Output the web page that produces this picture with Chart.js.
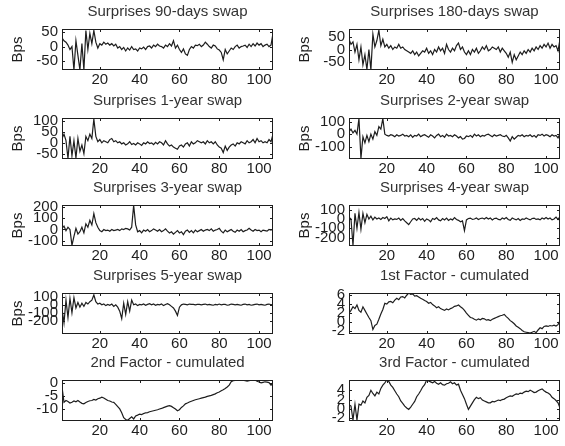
<!DOCTYPE html>
<html>
<head>
<meta charset="utf-8">
<script src="https://cdn.jsdelivr.net/npm/chart.js@4.4.0/dist/chart.umd.min.js"></script>
<style>
html, body { margin: 0; padding: 0; background: #fff; overflow: hidden; width: 565px; height: 446px; }
canvas { position: absolute; }
</style>
</head>
<body>
<script>
// monthly surprises (bps) and cumulated factors
var swap90d = [30, 20, 15, 5, -10, 0, -80, 20, -30, -80,
  10, -80, 55, -10, 45, 10, 55, 15, -5, 10,
  5, 15, 8, 12, 5, 10, 2, 8, -5, 0,
  -10, -3, -15, -5, -12, 0, -10, -8, -15, -5,
  -8, -2, -10, 0, 2, -5, 5, 0, 8, 2,
  0, -5, 5, 0, 10, 2, 20, -5, 5, -10,
  -20, -8, -25, -30, -10, 0, -5, 5, 3, 8,
  0, 5, 15, 8, 0, -5, 5, 2, -8, -12,
  -20, -45, -10, -25, -15, -5, -10, 0, 5, -5,
  0, 2, 5, -3, 8, 0, 10, 2, 12, 5,
  10, 0, 5, 8, 0, 5, 45];
var swap180d = [40, 20, 30, -10, 20, -40, 10, -60, -20, -78,
  0, -80, 60, 10, 35, 75, 15, 40, 10, 20,
  5, 15, 0, 10, 5, 20, 5, 10, 0, -5,
  -10, -15, -5, -20, -10, -25, -15, -5, -10, 5,
  -15, -5, -20, 0, -10, 10, -5, 5, -15, 20,
  0, -10, 5, -5, 15, 25, 0, 10, -10, -20,
  -5, -20, 0, -10, 5, -15, -5, 10, 0, 15,
  -5, 0, 10, 5, 0, 10, -10, 5, -5, -15,
  -30, -10, -50, -20, -40, -25, -10, -20, -5, -15,
  0, -10, 5, -5, 10, 0, 15, 5, 20, 10,
  25, 5, 20, 10, 15, -5, 40];
var swap1y = [20, 40, 10, -72, 30, -60, 10, -70, 20, -40,
  -10, -50, 30, 10, 40, 20, 110, 30, 5, 15,
  0, 10, 5, 0, 15, 20, 5, 10, 0, 5,
  -5, 0, -10, -5, 5, -8, -3, -10, 0, -5,
  -12, 0, -5, 5, -3, 0, -8, 2, -5, 5,
  0, -10, 10, -5, -15, -10, -20, -25, -30, -15,
  -10, -20, -5, 0, -15, 5, -5, 0, 10, 5,
  0, 5, -5, 10, 0, 5, -5, 5, -10, -20,
  -25, -45, -15, -35, -20, -10, -5, -15, 0, -5,
  5, 0, -5, 10, 0, 5, 15, 0, 20, 5,
  10, 0, 5, 0, 15, 5, 40];
var swap2y = [20, 40, 10, 30, 0, 125, -195, -20, -70, -10,
  -60, 0, -40, 20, -10, 60, 40, 125, 0, -10,
  -15, -5, -10, -20, -5, -15, -10, 0, -15, -10,
  -20, -5, -25, -10, -15, 0, -20, -10, -5, -15,
  -25, -5, -15, -30, -10, 0, -20, -10, -25, 0,
  -15, -10, -20, -5, -15, -30, -20, -40, -35, -15,
  -20, -10, -25, 0, -15, -5, -20, -10, -15, -5,
  0, -10, -20, -5, -15, -10, -5, -15, -20, -10,
  -30, -55, -20, -40, -25, -10, -15, -5, -20, -10,
  -15, -5, -20, -10, -25, -5, -10, 0, -15, -5,
  -10, -20, -5, -15, -10, -30, 0];
var swap3y = [10, 30, -10, 20, 0, -140, -60, 10, -40, -20,
  20, -30, 50, 20, 80, 40, 140, 60, 20, -10,
  -20, 0, -10, -5, -15, 0, -10, -5, 0, -10,
  5, 0, 10, 5, -5, 20, 212, 40, -20, -10,
  -30, -5, -15, 0, -20, -10, 5, -5, -15, 0,
  -20, -10, 5, -15, -30, -20, -40, -25, -10, -30,
  -20, -45, -15, -5, -25, -10, -30, -5, -20, -10,
  0, -15, -5, 0, -10, 5, -15, -5, 0, 10,
  -15, -30, -5, -20, -10, 0, -15, -25, -5, -15,
  0, -20, -10, -5, 10, -5, -15, 0, -10, -5,
  -20, -5, -10, -15, 0, -5, 5];
var swap4y = [20, 0, -285, 60, -100, 70, -110, 60, -40, 50,
  0, 30, -10, 20, 0, 10, -5, 15, 5, 25,
  -20, 10, -10, 0, -5, 10, -15, 5, -20, -40,
  -60, -30, 0, 5, -15, 10, -10, 5, -25, 0,
  -10, -30, 5, -5, 15, -10, -20, 5, -10, 10,
  -15, 0, -10, 15, -5, -15, -30, -20, -125, -10,
  5, 10, -5, 0, 10, -5, 5, 10, 0, 15,
  0, 10, -10, 5, 10, -5, -10, 10, 0, 15,
  -5, -15, 10, 0, -10, 5, -15, 0, -5, 10,
  0, -10, 5, 10, -5, 0, -10, 10, 0, 15,
  0, 10, -10, 0, 20, -5, 25];
var swap5y = [-50, -230, 60, -160, 80, -100, 90, -40, 30, -30,
  20, -20, 30, 10, 40, 60, 125, 40, 10, 20,
  0, 10, -10, 5, -5, 10, -20, 0, -30, -80,
  -175, 20, -120, 40, -80, 60, 0, 10, -10, 5,
  0, 10, -5, 5, 15, 0, 10, -5, 5, 0,
  10, -10, 5, 15, 0, -20, -40, -80, -135, -30,
  0, 10, 5, 0, 10, 5, 5, 0, 5, 5,
  0, 5, 10, 0, 5, 0, -5, 5, 0, 10,
  0, 5, 5, -5, 0, 10, 5, 0, 5, 0,
  -5, 5, 10, 0, 5, -5, 0, 5, 10, 0,
  5, 0, -5, 5, 10, 0, 5];
var factor1 = [2.0, 2.6, 3.4, 3.0, 3.8, 2.6, 2.2, 3.4, 2.6, 1.8,
  1.0, 0.3, -1.7, -0.8, -0.5, 0.6, 1.8, 2.8, 4.2, 4.0,
  4.5, 4.6, 4.3, 4.9, 5.3, 5.0, 5.6, 5.7, 5.4, 6.0,
  6.5, 6.2, 6.3, 5.8, 5.9, 5.6, 5.3, 5.1, 4.8, 4.6,
  4.2, 4.4, 3.9, 3.6, 3.2, 3.4, 3.0, 2.8, 2.6, 2.9,
  2.7, 3.0, 3.2, 3.5, 3.6, 3.8, 3.4, 3.1, 2.6, 2.0,
  1.5, 1.0, 0.9, 0.6, 0.4, 0.7, 0.5, 0.8, 0.7, 0.4,
  0.5, 0.3, 0.6, 0.8, 1.0, 1.2, 1.4, 1.5, 1.7, 1.2,
  0.8, 0.3, 0.0, -0.4, -0.9, -1.2, -1.5, -1.9, -2.2, -2.3,
  -2.4, -2.5, -2.3, -2.1, -2.4, -1.8, -1.3, -1.5, -1.0, -0.9,
  -1.0, -0.8, -0.9, -0.7, -0.9, -0.6, 0.3];
var factor2 = [-1.5, -7.5, -6.8, -7.2, -7.8, -7.5, -7.0, -7.3, -6.8, -7.4,
  -7.9, -8.1, -7.6, -7.2, -6.9, -6.8, -6.4, -6.6, -6.1, -5.9,
  -5.5, -5.8, -6.3, -6.8, -7.0, -7.4, -7.5, -8.3, -9.2, -10.1,
  -11.6, -13.5, -14.2, -14.5, -13.8, -13.2, -14.0, -12.8, -12.5, -12.1,
  -12.3, -11.9, -11.6, -11.5, -11.2, -11.0, -10.8, -10.6, -10.4, -10.1,
  -9.9, -9.6, -9.3, -9.0, -8.8, -9.1, -9.6, -10.1, -10.8, -10.4,
  -9.5, -8.9, -8.1, -7.8, -7.4, -7.1, -6.8, -6.5, -6.3, -6.1,
  -5.9, -5.7, -5.5, -5.2, -5.0, -4.8, -4.5, -4.2, -3.8, -3.5,
  -3.0, -2.6, -2.1, -1.5, -0.8, 0.5, 0.9, 1.0, 1.1, 1.2,
  1.0, 1.1, 0.9, 0.8, 0.9, 1.1, 1.0, 1.2, 0.7, 0.4,
  0.1, 0.3, 0.5, 0.4, 0.2, -0.8, -0.3];
var factor3 = [0.9, 0.6, -2.4, 1.0, -2.4, 1.0, 0.8, 1.7, 1.3, 2.5,
  2.9, 4.0, 3.3, 2.8, 3.6, 3.2, 4.4, 5.1, 5.6, 6.2,
  5.9, 5.1, 4.6, 3.9, 3.2, 2.6, 1.7, 1.2, 0.6, 0.2,
  -0.1, 0.4, 1.0, 1.6, 2.6, 3.2, 3.9, 4.7, 5.2, 6.2,
  6.0, 5.8, 5.6, 5.9, 5.5, 5.3, 5.6, 5.2, 5.1, 5.4,
  5.5, 5.8, 5.4, 5.6, 5.1, 5.3, 4.0, 3.1, 2.2, 1.0,
  -0.1, 0.6, 1.3, 2.0, 2.5, 2.2, 2.4, 1.9, 1.7, 1.5,
  1.3, 1.3, 1.6, 1.5, 1.7, 1.9, 1.8, 2.0, 2.1, 2.4,
  2.6, 2.8, 2.7, 3.0, 3.2, 3.1, 3.4, 3.3, 3.6, 3.8,
  3.7, 4.0, 3.8, 3.5, 3.6, 3.9, 4.1, 4.3, 3.9, 3.6,
  3.4, 3.1, 2.5, 2.2, 1.8, 1.3, 0.2];

var xTicks = [20, 40, 60, 80, 100];
var bpsTicks50 = [50, 0, -50];
var bpsTicks1y = [100, 50, 0, -50];
var bpsTicks100 = [100, 0, -100];
var bpsTicks3y = [200, 100, 0, -100];
var bpsTicks200 = [100, 0, -100, -200];
var f1Ticks = [6, 4, 2, 0, -2];
var f2Ticks = [0, -5, -10];
var f3Ticks = [4, 2, 0, -2];

var obs = [];
for (var i = 1; i <= swap90d.length; i++) obs.push(i);

var panels = [
  { title: 'Surprises 90-days swap',  data: swap90d,  ticks: bpsTicks50,  min: -80,  max: 60,  bps: true },
  { title: 'Surprises 180-days swap', data: swap180d, ticks: bpsTicks50,  min: -80,  max: 80,  bps: true },
  { title: 'Surprises 1-year swap',   data: swap1y,   ticks: bpsTicks1y,  min: -75,  max: 115, bps: true },
  { title: 'Surprises 2-year swap',   data: swap2y,   ticks: bpsTicks100, min: -200, max: 130, bps: true },
  { title: 'Surprises 3-year swap',   data: swap3y,   ticks: bpsTicks3y,  min: -145, max: 215, bps: true },
  { title: 'Surprises 4-year swap',   data: swap4y,   ticks: bpsTicks200, min: -290, max: 150, bps: true },
  { title: 'Surprises 5-year swap',   data: swap5y,   ticks: bpsTicks200, min: -370, max: 150, bps: true },
  { title: '1st Factor - cumulated',  data: factor1,  ticks: f1Ticks,     min: -2.7, max: 6.5, bps: false },
  { title: '2nd Factor - cumulated',  data: factor2,  ticks: f2Ticks,     min: -14.8, max: 1.2, bps: false },
  { title: '3rd Factor - cumulated',  data: factor3,  ticks: f3Ticks,     min: -2.6, max: 6.2, bps: false }
];

var colLeft = [62, 349];
var rowTop = [29, 118, 205, 293, 380];
var boxW = 211, boxH = 41;
var axisW = 62, axisH = 24, topH = 27, padR = 4;
var ink = '#1e1e1e';
var fontFam = '"Liberation Sans", Arial, Helvetica, sans-serif';

Chart.defaults.font.family = fontFam;
Chart.defaults.color = ink;

// MATLAB style: full box and inward tick marks
var matlabBox = {
  id: 'matlabBox',
  afterDraw: function(chart) {
    var a = chart.chartArea, c = chart.ctx;
    var sx = chart.scales.x, sy = chart.scales.y;
    c.save();
    c.strokeStyle = ink;
    c.lineWidth = 1;
    c.beginPath();
    sx.ticks.forEach(function(t) {
      var px = Math.round(sx.getPixelForValue(t.value)) + 0.5;
      c.moveTo(px, a.bottom); c.lineTo(px, a.bottom - 3);
      c.moveTo(px, a.top); c.lineTo(px, a.top + 3);
    });
    sy.ticks.forEach(function(t) {
      var py = Math.round(sy.getPixelForValue(t.value)) + 0.5;
      c.moveTo(a.left, py); c.lineTo(a.left + 3, py);
      c.moveTo(a.right, py); c.lineTo(a.right - 3, py);
    });
    c.stroke();
    c.strokeRect(Math.round(a.left) + 0.5, Math.round(a.top) + 0.5, Math.round(a.width) - 1, Math.round(a.height) - 1);
    c.restore();
  }
};

panels.forEach(function(p, k) {
  var col = k % 2, row = Math.floor(k / 2);
  var cv = document.createElement('canvas');
  var w = axisW + boxW + padR, h = topH + boxH + axisH;
  cv.width = w; cv.height = h;
  cv.style.width = w + 'px'; cv.style.height = h + 'px';
  cv.style.left = (colLeft[col] - axisW) + 'px';
  cv.style.top = (rowTop[row] - topH) + 'px';
  document.body.appendChild(cv);

  new Chart(cv.getContext('2d'), {
    type: 'line',
    data: {
      labels: obs,
      datasets: [{
        data: p.data,
        borderColor: ink,
        borderWidth: 1.2,
        pointRadius: 0,
        tension: 0,
        fill: false
      }]
    },
    options: {
      responsive: false,
      animation: false,
      layout: { padding: { left: 0, right: padR, top: 0, bottom: 0 } },
      plugins: {
        legend: { display: false },
        tooltip: { enabled: false },
        title: {
          display: true,
          fullSize: false,
          text: p.title,
          color: '#333',
          font: { size: 15, weight: 'normal', lineHeight: 1 },
          padding: { top: 2, bottom: 10 }
        }
      },
      scales: {
        x: {
          type: 'linear',
          min: 1,
          max: obs.length,
          grid: { display: false, drawTicks: false },
          border: { display: false },
          ticks: { autoSkip: false, maxRotation: 0, padding: 2, font: { size: 15, lineHeight: 1 } },
          afterBuildTicks: function(s) { s.ticks = xTicks.map(function(v) { return { value: v }; }); },
          afterFit: function(s) { s.height = axisH; }
        },
        y: {
          type: 'linear',
          min: p.min,
          max: p.max,
          grid: { display: false, drawTicks: false },
          border: { display: false },
          ticks: { autoSkip: false, padding: 4, font: { size: 15, lineHeight: 1 } },
          afterBuildTicks: function(s) { s.ticks = p.ticks.map(function(v) { return { value: v }; }); },
          afterFit: function(s) { s.width = axisW; },
          title: { display: p.bps, text: 'Bps', font: { size: 15 }, padding: { top: 9, bottom: 0 } }
        }
      }
    },
    plugins: [matlabBox]
  });
});
</script>
</body>
</html>
